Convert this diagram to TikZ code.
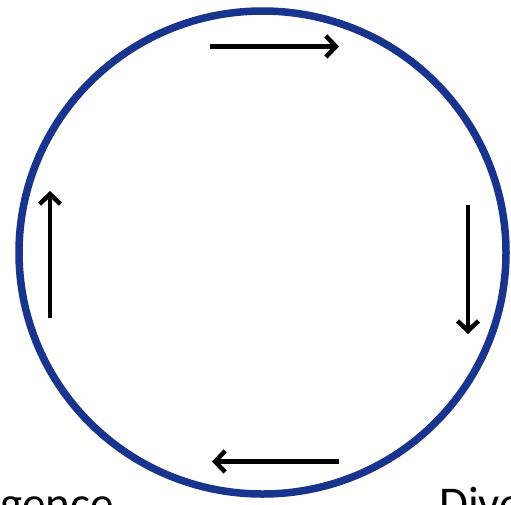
\documentclass[tikz,border=0pt]{standalone}
\usepackage{fontspec}
\setmainfont{Carlito}
\usetikzlibrary{arrows.meta}
\definecolor{ringblue}{RGB}{24,52,140}
\tikzset{
  ring/.style={draw=ringblue, line width=7.5pt},
  flow/.style={draw=black, line width=4.5pt, -{Straight Barb[length=10pt,width=21pt,line width=4.5pt]}},
  label/.style={font=\fontsize{47}{52}\selectfont, inner sep=0pt}
}
\begin{document}
\begin{tikzpicture}[x=1pt,y=-1pt]
\useasboundingbox (0,0) rectangle (511,504);
\clip (0,0) rectangle (511,504);
\fill[white] (0,0) rectangle (511,504);
\coordinate (c) at (262.5,252.5);
\draw[ring] (c) ellipse [x radius=243.5, y radius=241.5];
% arrows
\coordinate (t1) at (210,46.5);
\coordinate (t2) at (339,46.5);
\coordinate (r1) at (468,205);
\coordinate (r2) at (468,334);
\coordinate (b1) at (339,461.5);
\coordinate (b2) at (212,461.5);
\coordinate (l1) at (50,318);
\coordinate (l2) at (50,191);
\draw[flow] (t1) -- (t2);
\draw[flow] (r1) -- (r2);
\draw[flow] (b1) -- (b2);
\draw[flow] (l1) -- (l2);
\node[label, anchor=base east] (conv) at (114,519) {Convergence};
\node[label, anchor=base west] (div) at (439,519) {Divergence};
\end{tikzpicture}
\end{document}
